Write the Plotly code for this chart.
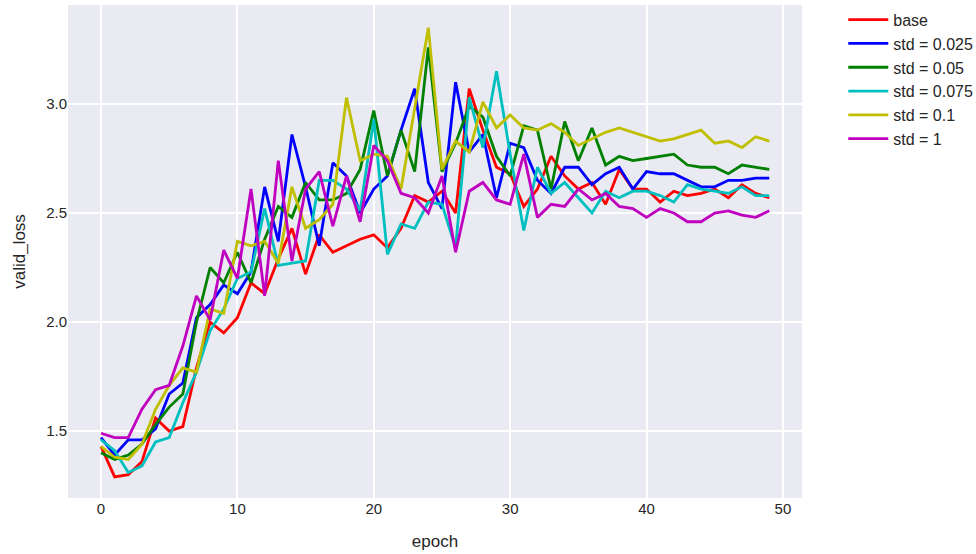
import plotly.graph_objects as go

# validation loss per epoch for each noise setting
epochs = list(range(50))

base = [1.43, 1.29, 1.30, 1.36, 1.56, 1.50, 1.52, 1.79, 2.00, 1.95,
        2.02, 2.18, 2.13, 2.29, 2.43, 2.22, 2.40, 2.32, 2.35, 2.38,
        2.40, 2.34, 2.43, 2.58, 2.55, 2.60, 2.50, 3.07, 2.88, 2.71,
        2.68, 2.53, 2.61, 2.76, 2.67, 2.61, 2.64, 2.54, 2.70, 2.61,
        2.61, 2.55, 2.60, 2.58, 2.59, 2.61, 2.57, 2.63, 2.59, 2.57]

std_0025 = [1.47, 1.39, 1.46, 1.46, 1.51, 1.67, 1.72, 2.02, 2.08, 2.17,
            2.13, 2.23, 2.62, 2.37, 2.86, 2.62, 2.35, 2.73, 2.67, 2.50,
            2.61, 2.67, 2.88, 3.07, 2.64, 2.52, 3.10, 2.78, 2.86, 2.57,
            2.82, 2.80, 2.65, 2.59, 2.71, 2.71, 2.63, 2.68, 2.71, 2.61,
            2.69, 2.68, 2.68, 2.65, 2.62, 2.62, 2.65, 2.65, 2.66, 2.66]

std_005 = [1.40, 1.37, 1.39, 1.44, 1.53, 1.61, 1.67, 2.00, 2.25, 2.18,
           2.32, 2.18, 2.38, 2.53, 2.48, 2.64, 2.56, 2.56, 2.59, 2.70,
           2.97, 2.67, 2.88, 2.69, 3.26, 2.69, 2.82, 2.99, 2.94, 2.76,
           2.67, 2.90, 2.88, 2.61, 2.92, 2.74, 2.89, 2.72, 2.76, 2.74,
           2.75, 2.76, 2.77, 2.72, 2.71, 2.71, 2.68, 2.72, 2.71, 2.70]

std_0075 = [1.46, 1.41, 1.31, 1.34, 1.45, 1.47, 1.63, 1.77, 1.96, 2.06,
            2.20, 2.23, 2.52, 2.26, 2.27, 2.28, 2.65, 2.65, 2.61, 2.51,
            2.93, 2.31, 2.45, 2.43, 2.55, 2.54, 2.34, 3.03, 2.80, 3.15,
            2.77, 2.42, 2.71, 2.59, 2.64, 2.57, 2.50, 2.60, 2.57, 2.60,
            2.60, 2.58, 2.55, 2.63, 2.61, 2.60, 2.59, 2.62, 2.58, 2.58]

std_01 = [1.43, 1.38, 1.37, 1.44, 1.60, 1.71, 1.79, 1.77, 2.06, 2.04,
          2.37, 2.35, 2.37, 2.27, 2.62, 2.43, 2.47, 2.54, 3.03, 2.74,
          2.77, 2.76, 2.61, 2.97, 3.35, 2.70, 2.83, 2.78, 3.01, 2.89,
          2.95, 2.89, 2.88, 2.91, 2.87, 2.81, 2.84, 2.87, 2.89, 2.87,
          2.85, 2.83, 2.84, 2.86, 2.88, 2.82, 2.83, 2.80, 2.85, 2.83]

std_1 = [1.49, 1.47, 1.47, 1.60, 1.69, 1.71, 1.89, 2.12, 2.01, 2.33,
         2.20, 2.61, 2.12, 2.74, 2.28, 2.61, 2.69, 2.44, 2.67, 2.46,
         2.81, 2.74, 2.59, 2.57, 2.50, 2.67, 2.32, 2.60, 2.64, 2.56,
         2.54, 2.77, 2.48, 2.54, 2.53, 2.61, 2.56, 2.59, 2.53, 2.52,
         2.48, 2.52, 2.50, 2.46, 2.46, 2.50, 2.51, 2.49, 2.48, 2.51]

series_names = ["base", "std = 0.025", "std = 0.05", "std = 0.075", "std = 0.1", "std = 1"]
series_values = [base, std_0025, std_005, std_0075, std_01, std_1]
series_colors = ["#FF0000", "#0000FF", "#008000", "#00BFBF", "#BFBF00", "#BF00BF"]

x_ticks = [0, 10, 20, 30, 40, 50]
y_ticks = [1.5, 2.0, 2.5, 3.0]

FONT = "Liberation Sans, Arial, sans-serif"
TEXT_COLOR = "#262626"

fig = go.Figure()
for name, vals, color in zip(series_names, series_values, series_colors):
    fig.add_trace(go.Scatter(
        x=epochs, y=vals, mode="lines", name=name,
        legendgroup=name,
        line=dict(color=color, width=2.8),
    ))

fig.update_layout(
    width=976, height=554,
    margin=dict(l=68, r=174, t=5, b=56),
    paper_bgcolor="white",
    plot_bgcolor="#EAEAF2",
    font=dict(family=FONT, size=15, color=TEXT_COLOR),
    showlegend=True,
    legend=dict(
        xref="container", yref="container",
        x=0.864, y=0.995, xanchor="left", yanchor="top",
        bgcolor="rgba(0,0,0,0)",
        font=dict(family=FONT, size=16, color=TEXT_COLOR),
        tracegroupgap=0,
        itemwidth=40,
    ),
)

fig.update_xaxes(
    range=[-2.42, 51.4],
    tickvals=x_ticks,
    showgrid=True, gridcolor="white", gridwidth=1.5,
    zeroline=False, showline=False, ticks="",
    tickfont=dict(family=FONT, size=15, color=TEXT_COLOR),
    title=dict(text="epoch", font=dict(family=FONT, size=17, color=TEXT_COLOR), standoff=19),
)
fig.update_yaxes(
    range=[1.193, 3.454],
    tickvals=y_ticks,
    tickformat=".1f",
    showgrid=True, gridcolor="white", gridwidth=1.5,
    zeroline=False, showline=False, ticks="",
    tickfont=dict(family=FONT, size=15, color=TEXT_COLOR),
    title=dict(text="valid_loss", font=dict(family=FONT, size=17, color=TEXT_COLOR), standoff=16),
)

fig.write_html("out.html")
